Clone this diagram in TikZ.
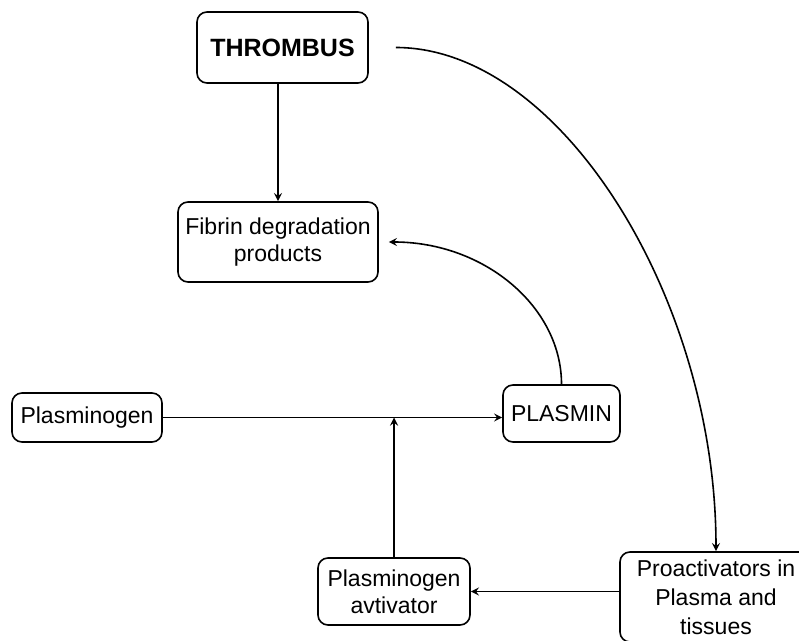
\documentclass[tikz,border=0pt]{standalone}
\usepackage{fontspec}
\setmainfont{Liberation Sans}
\begin{document}
\begin{tikzpicture}[>=stealth,x=0.5pt,y=-0.5pt,line width=0.8pt,font=\fontsize{11.5}{13.5}\selectfont,
    box/.style={draw,rounded corners=5pt,align=center,inner sep=0pt}]
    \useasboundingbox (0,0) rectangle (799,641);
    \clip (0,0) rectangle (799,641);
    % boxes
    \node[box,minimum width=85.5pt,minimum height=35.5pt,font=\fontsize{12.5}{15}\selectfont\bfseries] (thrombus) at (282.5,47.5) {THROMBUS};
    \node[box,minimum width=100pt,minimum height=40pt] (fibrin) at (278,242) {Fibrin degradation\\products};
    \node[box,minimum width=75pt,minimum height=24.5pt] (plasminogen) at (87,417.5) {Plasminogen};
    \node[box,minimum width=58.5pt,minimum height=28.5pt] (plasmin) at (561.5,413.5) {PLASMIN};
    \node[box,minimum width=76pt,minimum height=33.5pt] (activator) at (394,591.5) {Plasminogen\\avtivator};
    \node[box,minimum width=96pt,minimum height=45pt,font=\fontsize{11.5}{14.5}\selectfont] (proact) at (716,597) {Proactivators in\\Plasma and\\tissues};
    \coordinate (tstart) at ([xshift=13.5pt]thrombus.east);
    % arrows
    \draw[->] (fibrin.north |- thrombus.south) -- (fibrin.north);
    \draw[->] (plasmin.north) .. controls +(0,-77) and +(96,0) .. ([xshift=5pt]fibrin.east);
    \draw[->] (plasminogen.east) -- (plasminogen.east -| plasmin.west);
    \draw[->] (activator.north) -- (activator.north |- plasminogen.east);
    \draw[->] (proact.west |- activator.east) -- (activator.east);
    \draw[->] (tstart) .. controls +(165,0) and +(0,-252) .. (proact.north);
\end{tikzpicture}
\end{document}
